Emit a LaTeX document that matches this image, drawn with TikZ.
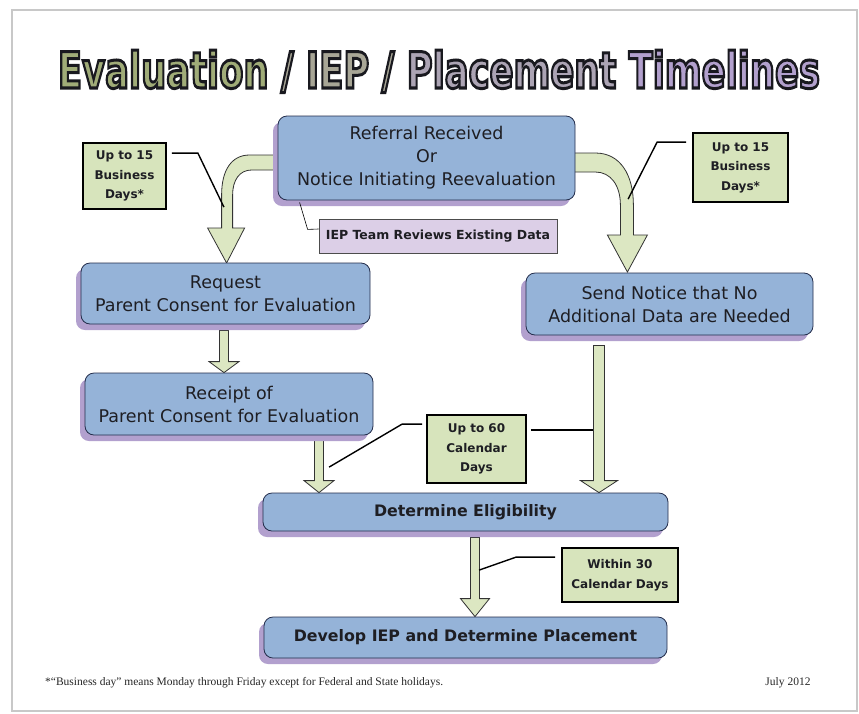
\documentclass[tikz,border=0pt]{standalone}
\usepackage{fontspec}
\setmainfont{DejaVu Sans}
\newfontfamily\footfont{Liberation Serif}
\newfontfamily\titlefont{DejaVu Sans Bold}[FakeBold=6]
\usetikzlibrary{calc,shadows}
\definecolor{boxblue}{RGB}{149,179,216}
\definecolor{boxshadow}{RGB}{178,160,206}
\definecolor{boxline}{RGB}{35,45,75}
\definecolor{callgreen}{RGB}{215,228,188}
\definecolor{arrgreen}{RGB}{220,231,194}
\definecolor{iepfill}{RGB}{220,207,231}
\definecolor{textdark}{RGB}{30,30,35}
\definecolor{framecol}{RGB}{200,200,200}
\definecolor{tA}{RGB}{160,172,120}
\definecolor{tB}{RGB}{168,166,150}
\definecolor{tC}{RGB}{172,164,180}
\definecolor{tD}{RGB}{178,160,205}
\newcommand\blk{\special{pdf:code 0.1 0.1 0.12 RG}}
\newcommand\tw[2]{{\color{#1}\blk#2}}
\newcommand\titlebody{\titlefont\fontsize{50}{50}\selectfont
  \tw{tA}{Evaluation}\tw{tB}{ / IEP / }\tw{tC}{Placement}\tw{tD}{ Timelines}}
\newcommand\titletxt{\resizebox{762pt}{38pt}{\titlebody}}
\pgfdeclarelayer{background}
\pgfsetlayers{background,main}
\newcommand\blockarrow[5]{%
  \draw[barrow] let \p1=(#1), \p2=(#2) in
    (\x2-#3pt,\y1) -- (\x2-#3pt,\y2+#5pt) -- (\x2-#4pt,\y2+#5pt) -- (\x2,\y2)
    -- (\x2+#4pt,\y2+#5pt) -- (\x2+#3pt,\y2+#5pt) -- (\x2+#3pt,\y1) -- cycle;}
\begin{document}
\begin{tikzpicture}[x=1pt,y=-1pt,
  bluebox/.style={draw=boxline, fill=boxblue, rounded corners=9pt, line width=0.8pt,
    drop shadow={shadow xshift=-5pt, shadow yshift=-6pt, fill=boxshadow, opacity=1},
    align=center, inner sep=0pt, text=textdark,
    font=\fontsize{17.5}{23}\selectfont},
  boldbox/.style={bluebox, font=\fontsize{15.8}{20}\selectfont\bfseries},
  callout/.style={draw=black, fill=callgreen, line width=1.8pt, align=center,
    inner sep=0pt, text=textdark, font=\fontsize{12}{19.5}\selectfont\bfseries},
  iepbox/.style={draw=black!70, fill=iepfill, line width=0.8pt, align=center,
    inner sep=0pt, text=textdark, font=\fontsize{12.5}{14}\selectfont\bfseries},
  barrow/.style={draw=black!80, fill=arrgreen, line width=0.8pt, line join=miter},
  leader/.style={draw=black, line width=1.4pt},
  thinleader/.style={draw=black, line width=0.6pt},
  foot/.style={font=\footfont\fontsize{11.5}{13}\selectfont, text=black!85, inner sep=0pt}]
\useasboundingbox (0,0) rectangle (859,713);
\begin{pgfonlayer}{background}
\fill[white] (0,0) rectangle (859,713);
\draw[framecol, line width=1.5pt] (12,10) rectangle (857,711);
\end{pgfonlayer}

% title
\node[inner sep=0pt, anchor=base] (title) at (439,88) {\titletxt};

% boxes
\node[bluebox, minimum width=297pt, minimum height=84pt] (top) at (426.5,158)
  {Referral Received\\Or\\Notice Initiating Reevaluation};
\node[bluebox, minimum width=289pt, minimum height=61pt] (req) at (225.5,293.5)
  {Request\\Parent Consent for Evaluation};
\node[bluebox, minimum width=288pt, minimum height=62pt] (rec) at (229,404)
  {Receipt of\\Parent Consent for Evaluation};
\node[bluebox, minimum width=287pt, minimum height=62pt] (send) at (669.5,304)
  {Send Notice that No\\Additional Data are Needed};
\node[boldbox, minimum width=405pt, minimum height=38pt] (elig) at (465.5,512)
  {Determine Eligibility};
\node[boldbox, minimum width=403pt, minimum height=41pt] (dev) at (465.5,637.5)
  {Develop IEP and Determine Placement};
\node[iepbox, minimum width=238pt, minimum height=34pt] (iep) at (438,236)
  {IEP Team Reviews Existing Data};

% callouts
\node[callout, minimum width=83pt, minimum height=66pt] (cl) at (124.5,176)
  {Up to 15\\Business\\Days*};
\node[callout, minimum width=95pt, minimum height=69pt] (cr) at (740.5,167.5)
  {Up to 15\\Business\\Days*};
\node[callout, minimum width=99pt, minimum height=68pt] (c60) at (476.5,449)
  {Up to 60\\Calendar\\Days};
\node[callout, minimum width=116pt, minimum height=54pt] (c30) at (620,575)
  {Within 30\\Calendar Days};

% block arrows (behind boxes)
\begin{pgfonlayer}{background}
  \begin{scope}[shift={(top.west)}]
    \draw[barrow] (2,-3) -- (-28,-3) .. controls (-46,-3) and (-56,12) .. (-56,37)
      -- (-56,70) -- (-70,70) -- (-51,105) -- (-33,70) -- (-45,70) -- (-45,37)
      .. controls (-45,22) and (-38,12) .. (-26,12) -- (2,12) -- cycle;
  \end{scope}
  \begin{scope}[shift={(top.east)}]
    \draw[barrow] (-2,-5) -- (20,-5) .. controls (45,-5) and (58,17) .. (58,47)
      -- (58,77) -- (72,77) -- (52,114) -- (32,77) -- (45,77) -- (45,47)
      .. controls (45,27) and (35,14) .. (20,14) -- (-2,14) -- cycle;
  \end{scope}
  \coordinate (a1s) at ($(req.south)+(-1.5,6)$);
  \coordinate (a1t) at (a1s |- rec.north);
  \blockarrow{a1s}{a1t}{4.5}{15}{11}
  \coordinate (a2s) at ($(rec.south)+(90,5)$);
  \coordinate (a2t) at (a2s |- elig.north);
  \blockarrow{a2s}{a2t}{4.5}{15}{12}
  \coordinate (a3s) at ($(send.south)+(-70.5,10)$);
  \coordinate (a3t) at (a3s |- elig.north);
  \blockarrow{a3s}{a3t}{5.5}{18.5}{12}
  \coordinate (a4s) at ($(elig.south)+(9.5,6)$);
  \coordinate (a4t) at (a4s |- dev.north);
  \blockarrow{a4s}{a4t}{4.5}{14.5}{18}
\end{pgfonlayer}

% leader lines
\draw[leader] ($(cl.north east)+(5,11)$) -- ++(26,0) -- ++(26,54);
\draw[leader] ($(cr.north west)+(-6,10)$) -- ++(-29,0) -- ++(-29,57);
\draw[leader] ($(c60.north west)+(-4,10)$) -- ++(-20,0) -- ++(-73,43);
\draw[leader] ($(c60.north east)+(4,16)$) -- ++(62,0);
\draw[leader] ($(c30.north west)+(-6,10)$) -- ++(-39,0) -- ++(-37,13);
\draw[thinleader] ($(top.south west)+(22,2)$) -- ++(8,27) -- ($(iep.west)+(0,-7)$);

% footer
\node[foot, anchor=west] (fn) at (45,683)
  {*“Business day” means Monday through Friday except for Federal and State holidays.};
\node[foot, anchor=center] (date) at (788,683) {July 2012};
\end{tikzpicture}
\end{document}
